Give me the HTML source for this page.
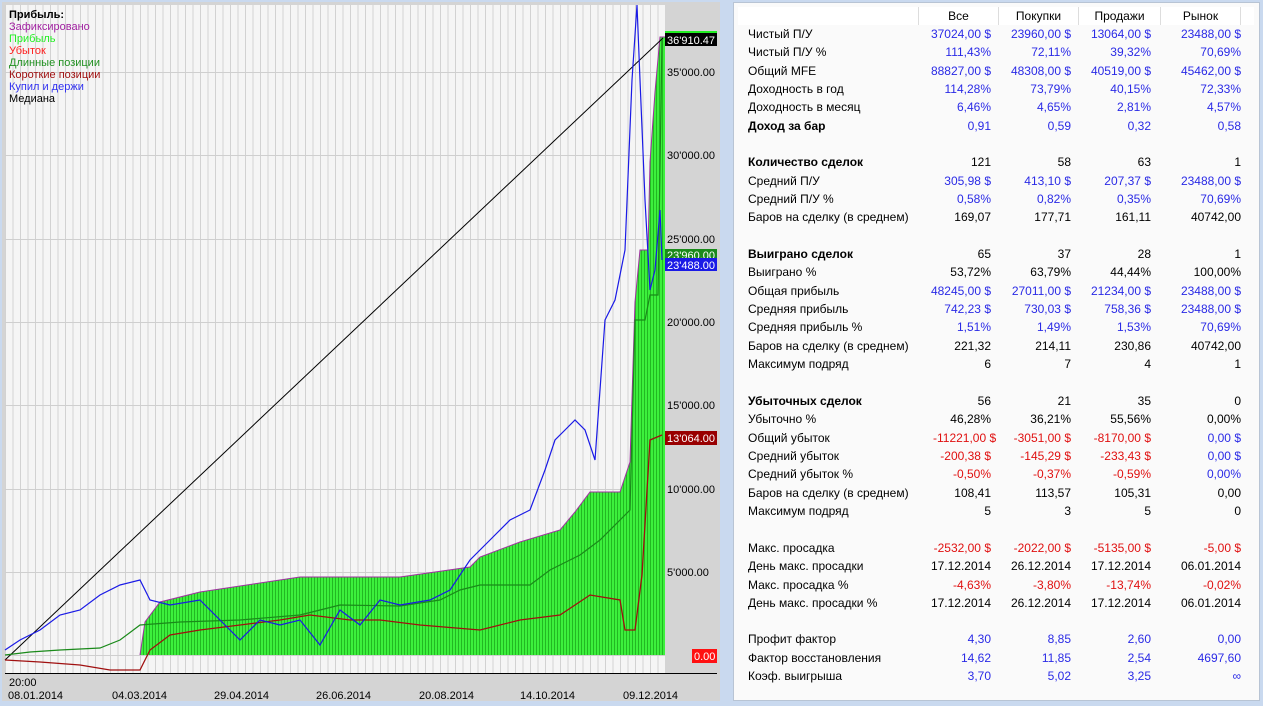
<!DOCTYPE html>
<html><head><meta charset="utf-8"><style>
body{margin:0;width:1263px;height:704px;background:#c9d9ef;font-family:"Liberation Sans","DejaVu Sans",sans-serif;position:relative;overflow:hidden}
#chart{position:absolute;left:2px;top:2px;width:718px;height:699px;background:#d4d4d4}
#tbl{position:absolute;left:733px;top:2px;width:527px;height:699px;background:#fafafa;border:1px solid #b8c4d4;box-sizing:border-box}
.r{position:absolute;left:14px;width:500px;height:18px;font-size:12px;line-height:18px;color:#000}
.r span{position:absolute;text-align:right;width:100px;white-space:nowrap}
.r .a{left:0;text-align:left;width:200px}
.r .b{left:143px}.r .c{left:223px}.r .d{left:303px}.r .e{left:393px}
.bl span{color:#2a2ae6}.bl .a{color:#000}
.rd span{color:#e01010}.rd .a{color:#000}
.bo .a{font-weight:bold}
.h{position:absolute;top:4px;height:18px;font-size:12px;line-height:18px;text-align:center;background:#fff;border-right:1px solid #ddd}
</style></head><body>
<div id="chart">
<svg width="718" height="699" xmlns="http://www.w3.org/2000/svg" font-family="Liberation Sans, DejaVu Sans, sans-serif">
<defs>
<pattern id="g" width="3" height="10" patternUnits="userSpaceOnUse"><rect width="3" height="10" fill="#3cf03c"/><rect width="1" height="10" fill="#22b822"/></pattern>
<pattern id="vg" x="3" width="7.5" height="10" patternUnits="userSpaceOnUse"><rect x="0" width="1" height="10" fill="#d2d2d2"/></pattern>
</defs>
<rect x="3" y="3" width="660" height="668" fill="#f5f5f5"/>
<rect x="3" y="3" width="660" height="668" fill="url(#vg)"/>
<g stroke="#cfcfcf" stroke-width="1">
<line x1="3" x2="663" y1="70.5" y2="70.5"/><line x1="3" x2="663" y1="153.5" y2="153.5"/><line x1="3" x2="663" y1="237.5" y2="237.5"/><line x1="3" x2="663" y1="320.5" y2="320.5"/><line x1="3" x2="663" y1="403.5" y2="403.5"/><line x1="3" x2="663" y1="487.5" y2="487.5"/><line x1="3" x2="663" y1="570.5" y2="570.5"/><line x1="3" x2="663" y1="653.5" y2="653.5"/>
</g>
<polygon fill="url(#g)" points="138,653 143,620 158,600 198,590 298,575 398,575 468,565 478,555 518,540 558,528 573,510 588,490 618,490 628,460 633,300 638,248 646,248 648,160 653,90 658,35 663,35 663,653"/>
<polyline fill="none" stroke="#a030a0" stroke-width="1" points="138,653 143,620 158,600 198,590 298,575 398,575 468,565 478,555 518,540 558,528 573,510 588,490 618,490 628,460 633,300 638,248 646,248 648,160 653,90 658,35 663,35"/>
<line x1="3" y1="658" x2="661" y2="36" stroke="#000" stroke-width="1"/>
<polyline fill="none" stroke="#1a8a1a" stroke-width="1.2" points="3,653 28,650 58,648 98,646 118,638 138,623 178,620 238,618 298,613 338,603 398,604 438,598 458,588 478,583 528,583 548,568 578,553 598,538 628,508 633,318 643,318 648,293 656,293 660,38"/>
<polyline fill="none" stroke="#a01010" stroke-width="1.3" points="3,658 38,660 78,663 108,668 138,668 148,648 168,633 198,628 238,623 278,618 308,613 348,618 378,618 418,623 478,628 518,618 558,613 588,593 618,598 623,628 633,628 640,573 648,438 660,433"/>
<polyline fill="none" stroke="#1a1ae6" stroke-width="1.2" points="3,648 18,638 38,628 58,613 78,608 98,593 118,583 138,578 148,598 168,603 198,598 238,638 258,618 278,623 298,618 318,643 338,608 358,623 378,598 398,603 428,598 448,588 468,558 488,538 508,518 528,508 543,468 553,438 563,428 573,418 583,428 593,458 603,318 613,298 623,248 630,78 635,3 638,78 643,198 648,288 653,268 658,208 660,258"/>
<text x="7" y="16" font-size="11" font-weight="bold" fill="#000">Прибыль:</text>
<g font-size="11"><text x="7" y="28" fill="#a020a0">Зафиксировано</text><text x="7" y="40" fill="#22ee22">Прибыль</text><text x="7" y="52" fill="#ff2020">Убыток</text><text x="7" y="64" fill="#209020">Длинные позиции</text><text x="7" y="76" fill="#a01010">Короткие позиции</text><text x="7" y="88" fill="#3030f0">Купил и держи</text><text x="7" y="100" fill="#000">Медиана</text></g>
<line x1="3" y1="671.5" x2="715" y2="671.5" stroke="#000"/>
<g font-size="11" fill="#000">
<text x="665" y="74">35'000.00</text><text x="665" y="157">30'000.00</text><text x="665" y="241">25'000.00</text><text x="665" y="324">20'000.00</text><text x="665" y="407">15'000.00</text><text x="665" y="491">10'000.00</text><text x="665" y="574">5'000.00</text>
</g>
<rect x="663" y="30" width="52" height="14" fill="#000"/><rect x="663" y="29" width="52" height="2" fill="#22ee22"/><text x="665" y="42" font-size="11" fill="#fff">36'910.47</text>
<rect x="663" y="247" width="52" height="10" fill="#1a8a1a"/><text x="665" y="257" font-size="11" fill="#fff">23'960.00</text>
<rect x="663" y="256" width="52" height="13" fill="#1a1ae6"/><text x="665" y="267" font-size="11" fill="#fff">23'488.00</text>
<rect x="663" y="429" width="52" height="14" fill="#900"/><text x="665" y="440" font-size="11" fill="#fff">13'064.00</text>
<rect x="690" y="647" width="25" height="14" fill="#ff1010"/><text x="692" y="658" font-size="11" fill="#fff">0.00</text>
<g font-size="11" fill="#000"><text x="7" y="684">20:00</text>
<text x="6" y="697">08.01.2014</text><text x="110" y="697">04.03.2014</text><text x="212" y="697">29.04.2014</text><text x="314" y="697">26.06.2014</text><text x="417" y="697">20.08.2014</text><text x="518" y="697">14.10.2014</text><text x="621" y="697">09.12.2014</text></g>
</svg>
</div>
<div id="tbl">
<div class="h" style="left:4px;width:180px"></div>
<div class="h" style="left:185px;width:79px">Все</div>
<div class="h" style="left:265px;width:79px">Покупки</div>
<div class="h" style="left:345px;width:81px">Продажи</div>
<div class="h" style="left:427px;width:79px">Рынок</div>
<div class="h" style="left:507px;width:13px;border:0"></div>
<div class="r bl" style="top:22px"><span class="a">Чистый П/У</span><span class="b">37024,00 $</span><span class="c">23960,00 $</span><span class="d">13064,00 $</span><span class="e">23488,00 $</span></div>
<div class="r bl" style="top:40px"><span class="a">Чистый П/У %</span><span class="b">111,43%</span><span class="c">72,11%</span><span class="d">39,32%</span><span class="e">70,69%</span></div>
<div class="r bl" style="top:59px"><span class="a">Общий MFE</span><span class="b">88827,00 $</span><span class="c">48308,00 $</span><span class="d">40519,00 $</span><span class="e">45462,00 $</span></div>
<div class="r bl" style="top:77px"><span class="a">Доходность в год</span><span class="b">114,28%</span><span class="c">73,79%</span><span class="d">40,15%</span><span class="e">72,33%</span></div>
<div class="r bl" style="top:95px"><span class="a">Доходность в месяц</span><span class="b">6,46%</span><span class="c">4,65%</span><span class="d">2,81%</span><span class="e">4,57%</span></div>
<div class="r bl bo" style="top:114px"><span class="a">Доход за бар</span><span class="b">0,91</span><span class="c">0,59</span><span class="d">0,32</span><span class="e">0,58</span></div>
<div class="r bo" style="top:150px"><span class="a">Количество сделок</span><span class="b">121</span><span class="c">58</span><span class="d">63</span><span class="e">1</span></div>
<div class="r bl" style="top:169px"><span class="a">Средний П/У</span><span class="b">305,98 $</span><span class="c">413,10 $</span><span class="d">207,37 $</span><span class="e">23488,00 $</span></div>
<div class="r bl" style="top:187px"><span class="a">Средний П/У %</span><span class="b">0,58%</span><span class="c">0,82%</span><span class="d">0,35%</span><span class="e">70,69%</span></div>
<div class="r" style="top:205px"><span class="a">Баров на сделку (в среднем)</span><span class="b">169,07</span><span class="c">177,71</span><span class="d">161,11</span><span class="e">40742,00</span></div>
<div class="r bo" style="top:242px"><span class="a">Выиграно сделок</span><span class="b">65</span><span class="c">37</span><span class="d">28</span><span class="e">1</span></div>
<div class="r" style="top:260px"><span class="a">Выиграно %</span><span class="b">53,72%</span><span class="c">63,79%</span><span class="d">44,44%</span><span class="e">100,00%</span></div>
<div class="r bl" style="top:279px"><span class="a">Общая прибыль</span><span class="b">48245,00 $</span><span class="c">27011,00 $</span><span class="d">21234,00 $</span><span class="e">23488,00 $</span></div>
<div class="r bl" style="top:297px"><span class="a">Средняя прибыль</span><span class="b">742,23 $</span><span class="c">730,03 $</span><span class="d">758,36 $</span><span class="e">23488,00 $</span></div>
<div class="r bl" style="top:315px"><span class="a">Средняя прибыль %</span><span class="b">1,51%</span><span class="c">1,49%</span><span class="d">1,53%</span><span class="e">70,69%</span></div>
<div class="r" style="top:334px"><span class="a">Баров на сделку (в среднем)</span><span class="b">221,32</span><span class="c">214,11</span><span class="d">230,86</span><span class="e">40742,00</span></div>
<div class="r" style="top:352px"><span class="a">Максимум подряд</span><span class="b">6</span><span class="c">7</span><span class="d">4</span><span class="e">1</span></div>
<div class="r bo" style="top:389px"><span class="a">Убыточных сделок</span><span class="b">56</span><span class="c">21</span><span class="d">35</span><span class="e">0</span></div>
<div class="r" style="top:407px"><span class="a">Убыточно %</span><span class="b">46,28%</span><span class="c">36,21%</span><span class="d">55,56%</span><span class="e">0,00%</span></div>
<div class="r rd" style="top:426px"><span class="a">Общий убыток</span><span style="left:185px;width:64px;text-align:left;overflow:hidden">-11221,00 $</span><span class="c">-3051,00 $</span><span class="d">-8170,00 $</span><span class="e" style="color:#2a2ae6">0,00 $</span></div>
<div class="r rd" style="top:444px"><span class="a">Средний убыток</span><span class="b">-200,38 $</span><span class="c">-145,29 $</span><span class="d">-233,43 $</span><span class="e" style="color:#2a2ae6">0,00 $</span></div>
<div class="r rd" style="top:462px"><span class="a">Средний убыток %</span><span class="b">-0,50%</span><span class="c">-0,37%</span><span class="d">-0,59%</span><span class="e" style="color:#2a2ae6">0,00%</span></div>
<div class="r" style="top:481px"><span class="a">Баров на сделку (в среднем)</span><span class="b">108,41</span><span class="c">113,57</span><span class="d">105,31</span><span class="e">0,00</span></div>
<div class="r" style="top:499px"><span class="a">Максимум подряд</span><span class="b">5</span><span class="c">3</span><span class="d">5</span><span class="e">0</span></div>
<div class="r rd" style="top:536px"><span class="a">Макс. просадка</span><span class="b">-2532,00 $</span><span class="c">-2022,00 $</span><span class="d">-5135,00 $</span><span class="e">-5,00 $</span></div>
<div class="r" style="top:554px"><span class="a">День макс. просадки</span><span class="b">17.12.2014</span><span class="c">26.12.2014</span><span class="d">17.12.2014</span><span class="e">06.01.2014</span></div>
<div class="r rd" style="top:573px"><span class="a">Макс. просадка %</span><span class="b">-4,63%</span><span class="c">-3,80%</span><span class="d">-13,74%</span><span class="e">-0,02%</span></div>
<div class="r" style="top:591px"><span class="a">День макс. просадки %</span><span class="b">17.12.2014</span><span class="c">26.12.2014</span><span class="d">17.12.2014</span><span class="e">06.01.2014</span></div>
<div class="r bl" style="top:627px"><span class="a">Профит фактор</span><span class="b">4,30</span><span class="c">8,85</span><span class="d">2,60</span><span class="e">0,00</span></div>
<div class="r bl" style="top:646px"><span class="a">Фактор восстановления</span><span class="b">14,62</span><span class="c">11,85</span><span class="d">2,54</span><span class="e">4697,60</span></div>
<div class="r bl" style="top:664px"><span class="a">Коэф. выигрыша</span><span class="b">3,70</span><span class="c">5,02</span><span class="d">3,25</span><span class="e">∞</span></div>
</div>
</body></html>
